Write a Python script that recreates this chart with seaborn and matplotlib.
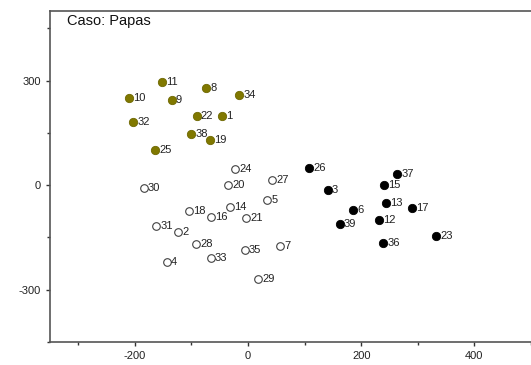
# Scatter of "Caso: Papas" - three groups of numbered samples
import pandas as pd
import matplotlib
matplotlib.use("Agg")
import matplotlib.pyplot as plt
import seaborn as sns
from matplotlib.ticker import MultipleLocator

# olive group
olive_ids = [11, 10, 9, 8, 34, 32, 22, 1, 38, 19, 25]
olive_x = [-152, -210, -135, -74, -16, -203, -91, -46, -100, -68, -164]
olive_y = [297, 250, 244, 278, 260, 180, 198, 199, 146, 130, 100]

# open (white) group
open_ids = [24, 30, 20, 14, 18, 16, 21, 31, 2, 28, 35, 33, 4, 29, 27, 5, 7]
open_x = [-23, -184, -35, -32, -105, -65, -3, -162, -124, -92, -6, -66, -144, 18, 42, 34, 57]
open_y = [47, -8, 0, -64, -75, -92, -94, -116, -135, -170, -187, -208, -221, -270, 15, -42, -174]

# black group
black_ids = [26, 37, 15, 3, 13, 17, 6, 12, 39, 23, 36]
black_x = [108, 264, 240, 141, 244, 289, 186, 231, 162, 332, 239]
black_y = [50, 31, 1, -13, -50, -65, -72, -99, -110, -145, -167]

olive_df = pd.DataFrame({"x": olive_x, "y": olive_y, "id": olive_ids})
open_df = pd.DataFrame({"x": open_x, "y": open_y, "id": open_ids})
black_df = pd.DataFrame({"x": black_x, "y": black_y, "id": black_ids})

sns.set_style("white")
plt.rcParams["font.family"] = ["Liberation Sans", "DejaVu Sans"]
plt.rcParams["axes.unicode_minus"] = False

fig = plt.figure(figsize=(5.31, 3.65), dpi=100)
ax = fig.add_axes([0.094, 0.063, 0.906, 0.907])

sns.scatterplot(data=olive_df, x="x", y="y", color="#807800", edgecolor="#6e6800",
                s=36, linewidth=0.6, ax=ax, zorder=3)
sns.scatterplot(data=open_df, x="x", y="y", color="white", edgecolor="#404040",
                s=30, linewidth=0.8, ax=ax, zorder=3)
sns.scatterplot(data=black_df, x="x", y="y", color="black", edgecolor="black",
                s=36, linewidth=0.6, ax=ax, zorder=3)

for df in [olive_df, open_df, black_df]:
    for _, row in df.iterrows():
        ax.annotate(str(row["id"]), (row["x"], row["y"]), xytext=(3, 0),
                    textcoords="offset points", va="center", ha="left",
                    fontsize=8, color="#222222")

ax.text(0.035, 0.99, "Caso: Papas", transform=ax.transAxes, fontsize=10.5,
        va="top", ha="left", color="#111111")

ax.set_xlim(-350, 500)
ax.set_ylim(-450, 500)
ax.xaxis.set_minor_locator(MultipleLocator(100))
ax.yaxis.set_minor_locator(MultipleLocator(150))
ax.set_xticks([-200, 0, 200, 400])
ax.set_yticks([-300, 0, 300])
ax.set_xlabel("")
ax.set_ylabel("")
ax.tick_params(which="both", direction="out", length=3, width=1, color="#333333",
               labelsize=8, labelcolor="#222222", bottom=True, left=True)
ax.tick_params(which="minor", length=2.5)

for side in ["left", "bottom", "top"]:
    ax.spines[side].set_color("#555555")
    ax.spines[side].set_linewidth(1.2)
ax.spines["right"].set_visible(False)

fig.savefig("out.png", dpi=100)
